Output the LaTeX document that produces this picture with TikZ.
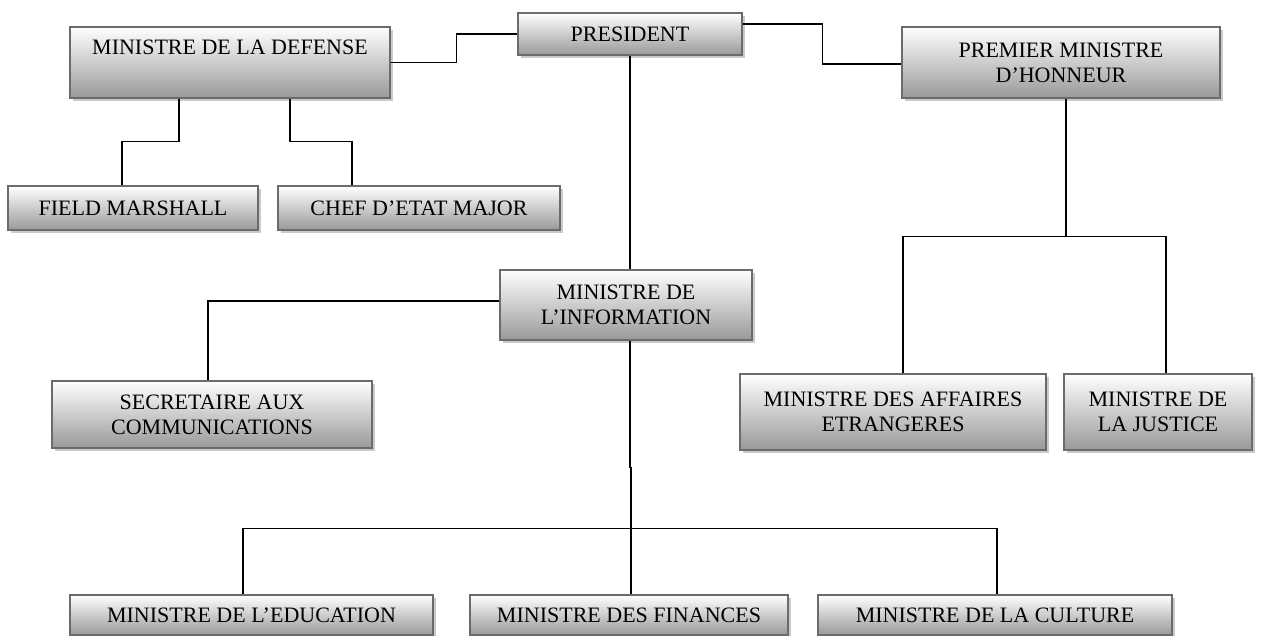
\documentclass[tikz,border=0pt]{standalone}
\usepackage{fontspec}
\setmainfont{Liberation Serif}
\usetikzlibrary{shadows,calc}
\tikzset{
  orgbox/.style={draw=black!58, line width=1.4pt, top color=white, bottom color=black!40,
    inner sep=0pt, align=center, font=\fontsize{22}{25}\selectfont,
    drop shadow={shadow xshift=3pt, shadow yshift=-3pt, fill=black!35, opacity=0.6}},
  link/.style={draw=black, line width=1.3pt}
}
\begin{document}
\begin{tikzpicture}[x=1pt,y=-1pt]
\useasboundingbox (0,0) rectangle (1266,636);
% boxes
\node[orgbox, minimum width=224pt, minimum height=42pt] (pres) at (630,34) {PRESIDENT};
\node[orgbox, minimum width=320pt, minimum height=71pt, text height=15pt, text depth=30pt] (def) at (230,62.5) {MINISTRE DE LA DEFENSE};
\node[orgbox, minimum width=318pt, minimum height=71pt] (pm) at (1061,62.5) {PREMIER MINISTRE\\D’HONNEUR};
\node[orgbox, minimum width=250pt, minimum height=44pt] (field) at (133,208) {FIELD MARSHALL};
\node[orgbox, minimum width=282pt, minimum height=44pt] (chef) at (419,208) {CHEF D’ETAT MAJOR};
\node[orgbox, minimum width=252pt, minimum height=70pt] (info) at (626,305) {MINISTRE DE\\L’INFORMATION};
\node[orgbox, minimum width=320pt, minimum height=67pt] (sec) at (212,414.5) {SECRETAIRE AUX\\COMMUNICATIONS};
\node[orgbox, minimum width=306pt, minimum height=76pt] (aff) at (893,412) {MINISTRE DES AFFAIRES\\ETRANGERES};
\node[orgbox, minimum width=188pt, minimum height=76pt] (jus) at (1158,412) {MINISTRE DE\\LA JUSTICE};
\node[orgbox, minimum width=363pt, minimum height=40pt] (edu) at (251.5,615) {MINISTRE DE L’EDUCATION};
\node[orgbox, minimum width=318pt, minimum height=40pt] (fin) at (629,615) {MINISTRE DES FINANCES};
\node[orgbox, minimum width=354pt, minimum height=40pt] (cul) at (995,615) {MINISTRE DE LA CULTURE};
% connectors
\draw[link] (def.east) -- ++(66,0) |- (pres.west);
\draw[link] ([yshift=10pt]pres.east) -- ++(80,0) |- ([yshift=-1.5pt]pm.west);
\draw[link] (pres.south) -- (pres.south |- info.north);
\draw[link] ([xshift=-51pt]def.south) -- ++(0,43) -| ([xshift=-11pt]field.north);
\draw[link] ([xshift=60pt]def.south) -- ++(0,43) -| ([xshift=-67pt]chef.north);
\draw[link] ([xshift=5pt]pm.south) -- ++(0,138) coordinate (pmb);
\draw[link] ([xshift=10pt]aff.north) |- (pmb) -| ([xshift=8pt]jus.north);
\draw[link] ([yshift=4pt]info.west) -| ([xshift=-4pt]sec.north);
\draw[link] ([xshift=4pt]info.south) -- ++(0,127) -- ++(1,0) -- ++(0,61) coordinate (hub);
\draw[link] ([xshift=-8.5pt]edu.north) |- (hub) -| ([xshift=2pt]cul.north);
\draw[link] (hub) -- (hub |- fin.north);
\end{tikzpicture}
\end{document}
